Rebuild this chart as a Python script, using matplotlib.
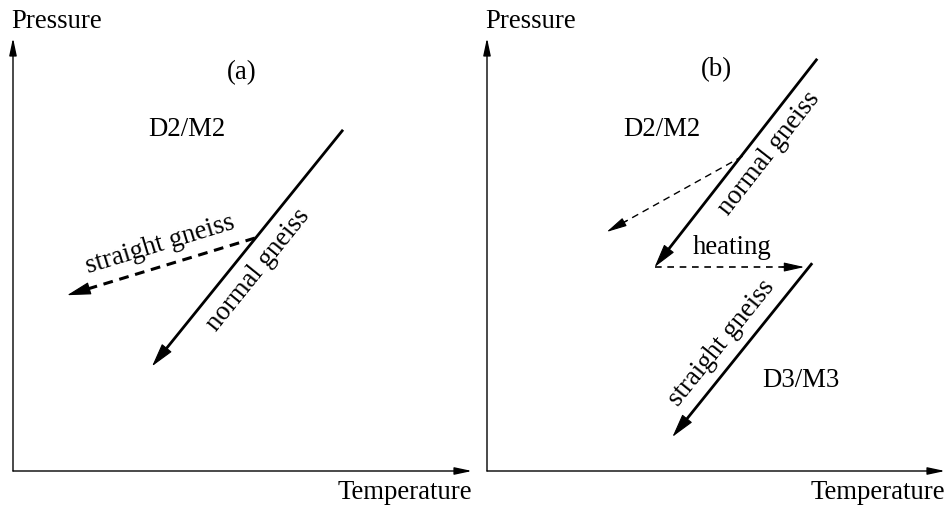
import numpy as np
import matplotlib.pyplot as plt

plt.rcParams['font.family'] = ['Liberation Serif', 'DejaVu Serif']
FS = 19.3

# P-T paths, (Temperature, Pressure) in arbitrary 0-100 units
# panel (a)
a_normal = [(71.9, 78.8), (30.3, 24.2)]
a_straight = [(52.7, 53.8), (11.8, 40.6)]
# panel (b)
b_normal = [(72.1, 95.2), (36.6, 47.1)]
b_retro = [(55.8, 72.7), (26.1, 55.2)]
b_heating = [(36.6, 47.1), (69.3, 47.1)]
b_straight = [(71.0, 48.0), (40.5, 7.9)]

fig = plt.figure(figsize=(9.48, 5.08), dpi=100)
W, H = 948, 508
ax_a = fig.add_axes([13 / W, 37 / H, 459 / W, 433 / H])
ax_b = fig.add_axes([487 / W, 37 / H, 458 / W, 433 / H])


def setup(ax):
    ax.set_xlim(0, 100)
    ax.set_ylim(0, 100)
    ax.axis('off')
    for tip in [(100, 0), (0, 100)]:
        ax.annotate('', xy=tip, xytext=(0, 0), annotation_clip=False,
                    arrowprops=dict(arrowstyle='-|>,head_length=0.75,head_width=0.16',
                                    mutation_scale=14, lw=1.0, color='k',
                                    shrinkA=0, shrinkB=0))
    ax.text(-0.3, 102.3, 'Pressure', fontsize=FS, ha='left', va='baseline')
    ax.text(100, -6.5, 'Temperature', fontsize=FS, ha='right', va='baseline')


def path(ax, seg, lw=2.0, dashes=None, hl=0.75, hw=0.2, ms=20):
    (x0, y0), (x1, y1) = seg
    kw = dict(color='k', lw=lw, solid_capstyle='butt', dash_capstyle='butt')
    if dashes is not None:
        kw['dashes'] = dashes
        f = 0.93   # dashed shaft stops short so the head stays solid
    else:
        f = 0.97
    ax.plot([x0, x0 + f * (x1 - x0)], [y0, y0 + f * (y1 - y0)], **kw)
    ax.annotate('', xy=(x1, y1), xytext=(x0 + 0.85 * (x1 - x0), y0 + 0.85 * (y1 - y0)),
                arrowprops=dict(arrowstyle=f'-|>,head_length={hl},head_width={hw}',
                                mutation_scale=ms, lw=0.8, color='k',
                                shrinkA=0, shrinkB=0))


def angle(ax, seg):
    p = ax.transData.transform(np.array(seg))
    d = p[0] - p[1]
    return np.degrees(np.arctan2(d[1], d[0]))


setup(ax_a)
setup(ax_b)
fig.canvas.draw()

# panel (a)
path(ax_a, a_normal, lw=2.0)
path(ax_a, a_straight, lw=2.2, dashes=(3.2, 2.2))
ax_a.text(49.9, 92.1, '(a)', fontsize=FS, ha='center', va='center')
ax_a.text(37.9, 78.8, 'D2/M2', fontsize=FS, ha='center', va='center')
ax_a.text(32.0, 52.2, 'straight gneiss', fontsize=FS, ha='center', va='center',
          rotation=angle(ax_a, a_straight), rotation_mode='anchor')
ax_a.text(53.4, 46.4, 'normal gneiss', fontsize=FS, ha='center', va='center',
          rotation=angle(ax_a, a_normal), rotation_mode='anchor')

# panel (b)
path(ax_b, b_normal, lw=2.0)
path(ax_b, b_retro, lw=1.0, dashes=(5, 3.6), hl=0.9, hw=0.2, ms=14)
path(ax_b, b_heating, lw=1.2, dashes=(4, 3.4), hl=0.9, hw=0.2, ms=14)
path(ax_b, b_straight, lw=2.0)
ax_b.text(50.1, 92.6, '(b)', fontsize=FS, ha='center', va='center')
ax_b.text(38.1, 78.8, 'D2/M2', fontsize=FS, ha='center', va='center')
ax_b.text(53.6, 51.7, 'heating', fontsize=FS, ha='center', va='center')
ax_b.text(61.7, 73.4, 'normal gneiss', fontsize=FS, ha='center', va='center',
          rotation=angle(ax_b, b_normal), rotation_mode='anchor')
ax_b.text(51.2, 29.6, 'straight gneiss', fontsize=FS, ha='center', va='center',
          rotation=angle(ax_b, b_straight), rotation_mode='anchor')
ax_b.text(68.6, 21.0, 'D3/M3', fontsize=FS, ha='center', va='center')

fig.savefig('out.png', dpi=100, facecolor='white')
